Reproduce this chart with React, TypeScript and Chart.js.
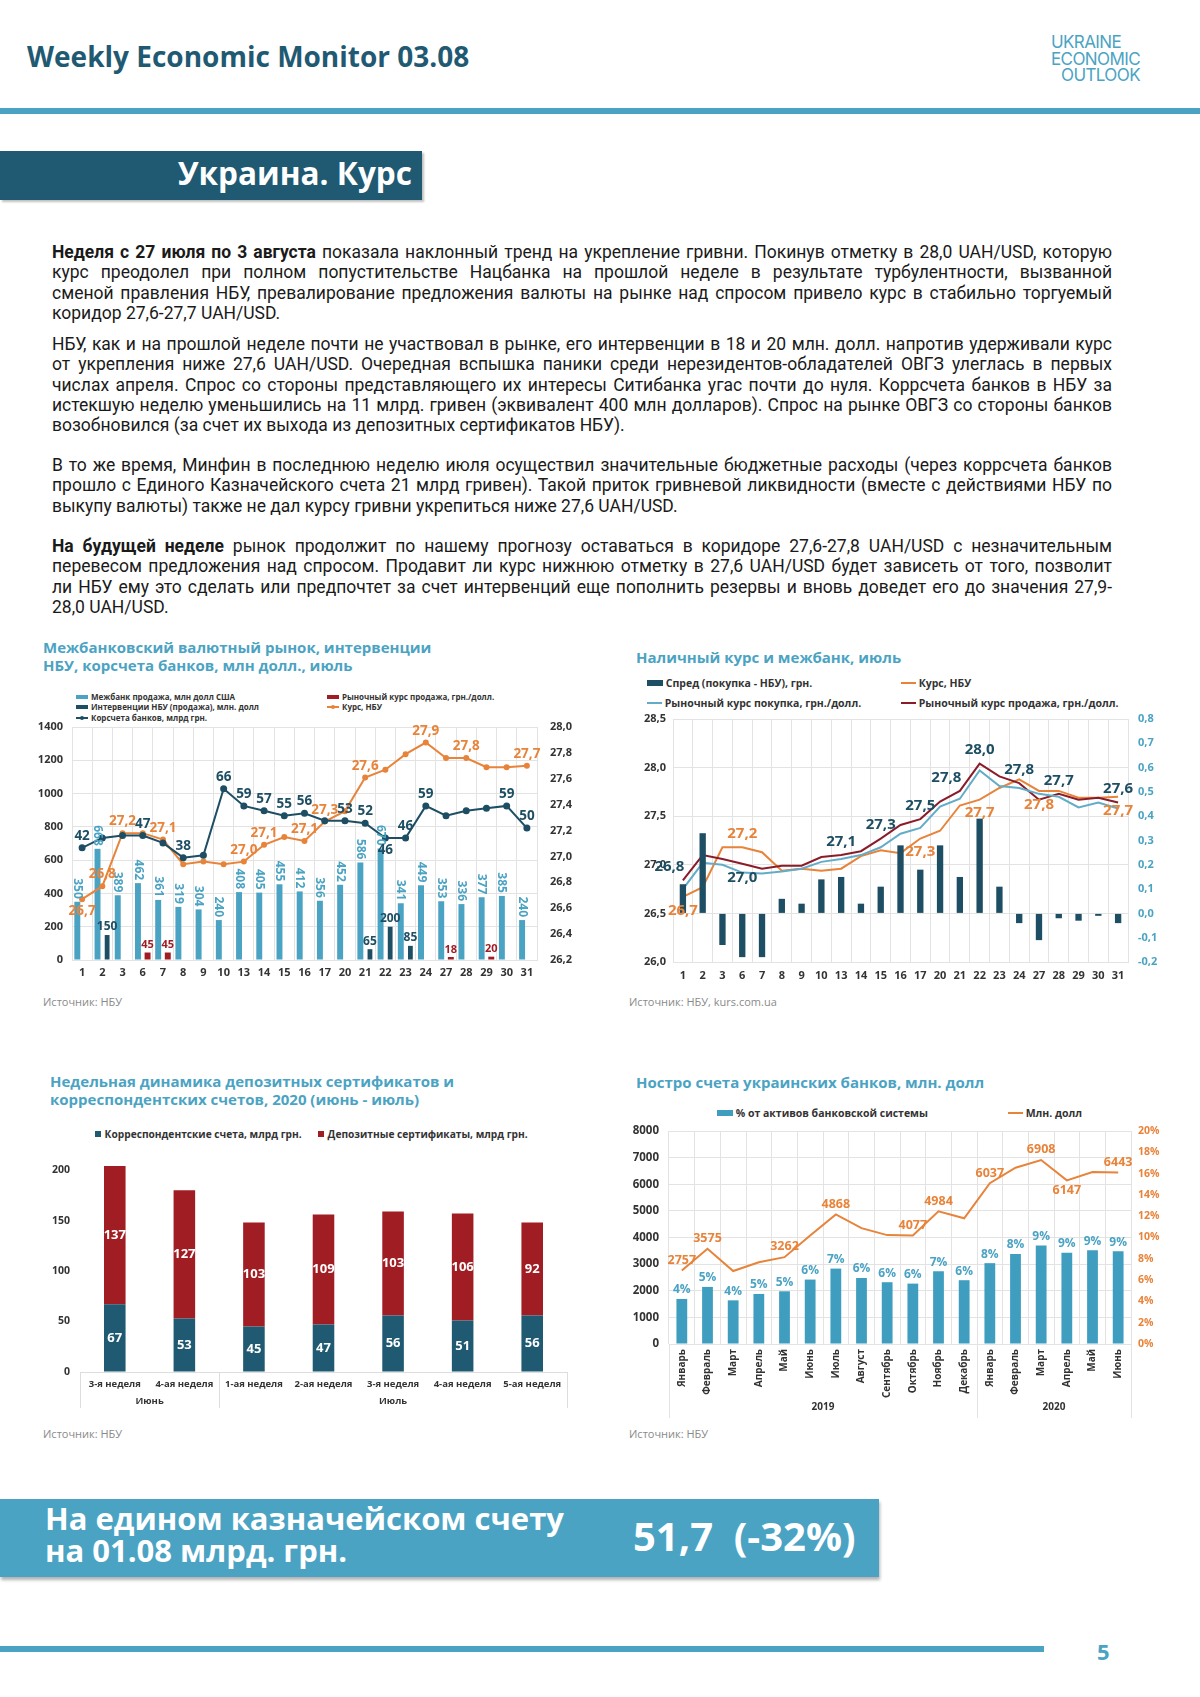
import React, { useEffect, useRef } from 'react';
import { Chart, registerables } from 'chart.js';

Chart.register(...registerables);

const FONT = '"Open Sans", "Noto Sans", sans-serif';
const TEAL = '#1f5a72';
const TEAL_DARK = '#1d4e63';
const BLUE = '#4ba3c3';
const LIGHT_LINE = '#63acc8';
const ORANGE = '#e8833a';
const RED = '#a11d24';
const DARK_RED = '#8a1c2a';
const GRID = '#e3e3e3';
const TICK = '#333333';
const CLEAR = 'rgba(0,0,0,0)';

// ---------- Chart 1: interbank market ----------
const days = ['1', '2', '3', '6', '7', '8', '9', '10', '13', '14', '15', '16', '17', '20', '21', '22', '23', '24', '27', '28', '29', '30', '31'];
const interbankSales = [350, 668, 389, 462, 361, 319, 304, 240, 408, 405, 455, 412, 356, 452, 586, 670, 341, 449, 353, 336, 377, 385, 240];
const nbuInterventions = [null, 150, null, null, null, null, null, null, null, null, null, null, null, null, 65, 200, 85, null, null, null, null, null, null];
const nbuSmallBars = [null, null, null, 45, 45, null, null, null, null, null, null, null, null, null, null, null, null, null, 18, null, 20, null, null];
const corrAccounts = [42, 46, 47, 47, 44, 38, 39, 66, 59, 57, 55, 56, 53, 53, 52, 46, 46, 59, 55, 57, 58, 59, 50];
const nbuRate = [26.67, 26.77, 27.18, 27.18, 27.13, 26.94, 26.96, 26.94, 26.96, 27.09, 27.15, 27.12, 27.27, 27.35, 27.61, 27.67, 27.79, 27.88, 27.76, 27.76, 27.69, 27.69, 27.70];

// ---------- Chart 2: cash rate ----------
const spread = [0.12, 0.33, -0.13, -0.18, -0.18, 0.06, 0.04, 0.14, 0.15, 0.04, 0.11, 0.28, 0.18, 0.28, 0.15, 0.39, 0.11, -0.04, -0.11, -0.02, -0.03, -0.01, -0.04];
const cashBuy = [26.75, 27.02, 27.0, 26.92, 26.91, 26.93, 26.96, 27.03, 27.06, 27.1, 27.18, 27.32, 27.38, 27.6, 27.68, 27.97, 27.81, 27.79, 27.73, 27.7, 27.59, 27.64, 27.58];
const cashSell = [26.84, 27.1, 27.06, 27.01, 26.96, 26.99, 26.99, 27.08, 27.1, 27.14, 27.27, 27.41, 27.47, 27.65, 27.76, 28.04, 27.91, 27.84, 27.67, 27.73, 27.67, 27.69, 27.64];

// ---------- Chart 3: deposit certificates ----------
const weeks = ['3-я неделя', '4-ая неделя', '1-ая неделя', '2-ая неделя', '3-я неделя', '4-ая неделя', '5-ая неделя'];
const weekGroups = [{ label: 'Июнь', from: 0, to: 1 }, { label: 'Июль', from: 2, to: 6 }];
const corrWeekly = [67, 53, 45, 47, 56, 51, 56];
const depositCerts = [137, 127, 103, 109, 103, 106, 92];

// ---------- Chart 4: nostro accounts ----------
const months = ['Январь', 'Февраль', 'Март', 'Апрель', 'Май', 'Июнь', 'Июль', 'Август', 'Сентябрь', 'Октябрь', 'Ноябрь', 'Декабрь', 'Январь', 'Февраль', 'Март', 'Апрель', 'Май', 'Июнь'];
const yearGroups = [{ label: '2019', from: 0, to: 11 }, { label: '2020', from: 12, to: 17 }];
const nostroUsd = [2757, 3575, 2740, 3070, 3262, 4075, 4868, 4350, 4090, 4077, 4984, 4720, 6037, 6620, 6908, 6147, 6460, 6443];
const nostroShare = [4.23, 5.36, 4.1, 4.7, 4.95, 6.05, 7.08, 6.2, 5.8, 5.67, 6.83, 5.99, 7.59, 8.46, 9.25, 8.56, 8.81, 8.71];

// label placement (t = above, b = below, tl = above-left, c = centre)
const corrLabelPos: Record<number, string> = { 0: 't', 3: 't', 5: 't', 7: 't', 8: 't', 9: 't', 10: 't', 11: 't', 13: 't', 14: 't', 15: 'b', 16: 't', 17: 't', 21: 't', 22: 't' };
const rateLabelPos: Record<number, string> = { 0: 'b', 1: 't', 2: 't', 4: 't', 8: 't', 9: 't', 11: 't', 12: 't', 14: 't', 17: 't', 19: 't', 22: 't' };
const sellLabelPos: Record<number, string> = { 0: 'tl', 3: 'b', 8: 't', 10: 't', 12: 't', 14: 'tl', 15: 't', 17: 't', 19: 't', 22: 't' };
const nbuCashLabelPos: Record<number, string> = { 0: 'b', 3: 't', 12: 'b', 15: 'b', 18: 'b', 22: 'b' };
const nostroLabelPos: Record<number, string> = { 0: 't', 1: 't', 4: 't', 6: 't', 9: 't', 10: 't', 12: 't', 14: 't', 15: 'b', 17: 't' };

const comma1 = (v: number) => Number(v).toFixed(1).replace('.', ',');

const valueLabels = {
  id: 'valueLabels',
  afterDatasetsDraw(chart: any, _a: any, opts: any) {
    const specs = (opts && opts.specs) || [];
    const ctx = chart.ctx;
    ctx.save();
    specs.forEach((s: any) => {
      const meta = chart.getDatasetMeta(s.ds);
      const data = chart.data.datasets[s.ds].data;
      const idxs = s.at === 'all' ? data.map((_: any, i: number) => i) : Object.keys(s.at).map(Number);
      idxs.forEach((i: number) => {
        const v = data[i];
        if (v === null || v === undefined) return;
        const el = meta.data[i];
        if (!el) return;
        const pos = s.at === 'all' ? s.pos || 't' : s.at[i];
        const g = s.gap !== undefined ? s.gap : 4;
        ctx.font = `bold ${s.size}px ${FONT}`;
        ctx.fillStyle = s.color;
        const txt = s.fmt(v);
        let x = el.x;
        let y = el.y;
        if (s.rotate) {
          ctx.save();
          ctx.translate(x, y - g);
          ctx.rotate(Math.PI / 2);
          ctx.textAlign = 'right';
          ctx.textBaseline = 'middle';
          ctx.fillText(txt, 0, 0);
          ctx.restore();
          return;
        }
        ctx.textAlign = 'center';
        if (pos === 'c') {
          y = (el.y + el.base) / 2;
          ctx.textBaseline = 'middle';
        } else if (pos[0] === 't') {
          ctx.textBaseline = 'bottom';
          y -= g;
        } else {
          ctx.textBaseline = 'top';
          y += g;
        }
        if (pos.indexOf('l') > 0) x -= s.size * 0.9;
        if (pos.indexOf('r') > 0) x += s.size * 0.9;
        ctx.fillText(txt, x, y);
      });
    });
    ctx.restore();
  },
};

const groupAxis = {
  id: 'groupAxis',
  afterDraw(chart: any, _a: any, opts: any) {
    if (!opts || !opts.groups) return;
    const xs = chart.scales.x;
    const area = chart.chartArea;
    const ctx = chart.ctx;
    const step = xs.getPixelForValue(1) - xs.getPixelForValue(0);
    ctx.save();
    ctx.strokeStyle = opts.lineColor || '#dddddd';
    ctx.lineWidth = 1;
    ctx.font = `bold ${opts.size || 10}px ${FONT}`;
    ctx.fillStyle = TICK;
    ctx.textAlign = 'center';
    ctx.textBaseline = 'middle';
    opts.groups.forEach((g: any, k: number) => {
      const l = xs.getPixelForValue(g.from) - step / 2;
      const r = xs.getPixelForValue(g.to) + step / 2;
      const lines = k === opts.groups.length - 1 ? [l, r] : [l];
      lines.forEach((px: number) => {
        ctx.beginPath();
        ctx.moveTo(Math.round(px) + 0.5, area.bottom);
        ctx.lineTo(Math.round(px) + 0.5, area.bottom + opts.lineLen);
        ctx.stroke();
      });
      ctx.fillText(g.label, (l + r) / 2, area.bottom + opts.labelOffset);
    });
    ctx.restore();
  },
};

Chart.register(valueLabels as any, groupAxis as any);

const fixW = (w: number) => (s: any) => {
  s.width = w;
};
const fixH = (h: number) => (s: any) => {
  s.height = h;
};
const tickFont = (size: number) => ({ family: FONT, size, weight: 'bold' as const });
const leftGrid = (gap: number) => ({ color: GRID, drawTicks: true, tickLength: gap, tickColor: CLEAR });
const rightGrid = (gap: number) => ({ drawOnChartArea: false, drawTicks: true, tickLength: gap, tickColor: CLEAR });

function chart1Config(): any {
  return {
    type: 'bar',
    data: {
      labels: days,
      datasets: [
        { type: 'line', label: 'Корсчета банков, млрд грн.', data: corrAccounts, yAxisID: 'yc', borderColor: TEAL_DARK, backgroundColor: TEAL_DARK, borderWidth: 2, pointRadius: 2.5, pointHoverRadius: 2.5, order: 0 },
        { type: 'line', label: 'Курс, НБУ', data: nbuRate, yAxisID: 'yr', borderColor: ORANGE, backgroundColor: ORANGE, borderWidth: 2, pointRadius: 2, order: 0 },
        { label: 'Межбанк продажа, млн долл США', data: interbankSales, backgroundColor: BLUE, stack: 'a', yAxisID: 'y', order: 1, barPercentage: 0.62, categoryPercentage: 0.95 },
        { label: 'Интервенции НБУ (продажа), млн. долл', data: nbuInterventions, backgroundColor: TEAL_DARK, stack: 'b', yAxisID: 'y', order: 1, barPercentage: 0.5, categoryPercentage: 0.95 },
        { label: 'Рыночный курс продажа, грн./долл.', data: nbuSmallBars, backgroundColor: RED, stack: 'b', yAxisID: 'y', order: 1, barPercentage: 0.62, categoryPercentage: 0.95 },
      ],
    },
    options: {
      responsive: false,
      animation: false,
      devicePixelRatio: 1,
      layout: { padding: { top: 9, left: 0, right: 0, bottom: 0 } },
      plugins: {
        legend: { display: false },
        tooltip: { enabled: false },
        valueLabels: {
          specs: [
            { ds: 2, at: 'all', rotate: true, color: BLUE, size: 12, fmt: (v: number) => String(v), gap: 3 },
            { ds: 3, at: 'all', pos: 't', color: TEAL_DARK, size: 12, fmt: (v: number) => String(v), gap: 2 },
            { ds: 4, at: 'all', pos: 't', color: RED, size: 11, fmt: (v: number) => String(v), gap: 2 },
            { ds: 0, at: corrLabelPos, color: TEAL_DARK, size: 13.5, fmt: (v: number) => String(v), gap: 5 },
            { ds: 1, at: rateLabelPos, color: ORANGE, size: 13.5, fmt: comma1, gap: 5 },
          ],
        },
      },
      scales: {
        x: {
          grid: { color: GRID, offset: true, drawTicks: false },
          border: { color: GRID },
          ticks: { font: tickFont(11), color: TICK, autoSkip: false, maxRotation: 0, padding: 6 },
          afterFit: fixH(28),
        },
        y: {
          position: 'left',
          min: 0,
          max: 1400,
          ticks: { stepSize: 200, font: tickFont(11), color: TICK, padding: 0, callback: (v: number) => String(v) },
          grid: leftGrid(9),
          border: { display: false },
          afterFit: fixW(44),
        },
        yr: {
          position: 'right',
          min: 26.2,
          max: 28.0,
          ticks: { stepSize: 0.2, font: tickFont(11), color: TICK, padding: 0, callback: (v: number) => comma1(v) },
          grid: rightGrid(13),
          border: { display: false },
          afterFit: fixW(56),
        },
        yc: { display: false, min: -3.5, max: 91 },
      },
    },
  };
}

function chart2Config(): any {
  return {
    type: 'bar',
    data: {
      labels: days,
      datasets: [
        { label: 'Спред (покупка - НБУ), грн.', data: spread, backgroundColor: TEAL_DARK, yAxisID: 'ys', order: 0, barPercentage: 0.32, categoryPercentage: 1 },
        { type: 'line', label: 'Рыночный курс покупка, грн./долл.', data: cashBuy, yAxisID: 'y', borderColor: LIGHT_LINE, borderWidth: 2, pointRadius: 0, order: 1 },
        { type: 'line', label: 'Рыночный курс продажа, грн./долл.', data: cashSell, yAxisID: 'y', borderColor: DARK_RED, borderWidth: 2, pointRadius: 0, order: 1 },
        { type: 'line', label: 'Курс, НБУ', data: nbuRate, yAxisID: 'y', borderColor: ORANGE, borderWidth: 2, pointRadius: 0, order: 1 },
      ],
    },
    options: {
      responsive: false,
      animation: false,
      devicePixelRatio: 1,
      layout: { padding: { top: 8, left: 0, right: 0, bottom: 0 } },
      plugins: {
        legend: { display: false },
        tooltip: { enabled: false },
        valueLabels: {
          specs: [
            { ds: 2, at: sellLabelPos, color: TEAL_DARK, size: 15, fmt: comma1, gap: 6 },
            { ds: 3, at: nbuCashLabelPos, color: ORANGE, size: 15, fmt: comma1, gap: 6 },
          ],
        },
      },
      scales: {
        x: {
          grid: { color: GRID, offset: true, drawTicks: false },
          border: { color: GRID },
          ticks: { font: tickFont(11), color: TICK, autoSkip: false, maxRotation: 0, padding: 7 },
          afterFit: fixH(30),
        },
        y: {
          position: 'left',
          min: 26.0,
          max: 28.5,
          ticks: { stepSize: 0.5, font: tickFont(11), color: TICK, padding: 0, callback: (v: number) => comma1(v) },
          grid: leftGrid(7),
          border: { display: false },
          afterFit: fixW(43),
        },
        ys: {
          position: 'right',
          min: -0.2,
          max: 0.8,
          ticks: { stepSize: 0.1, font: tickFont(11), color: BLUE, padding: 0, callback: (v: number) => comma1(v) },
          grid: rightGrid(10),
          border: { display: false },
          afterFit: fixW(47),
        },
      },
    },
  };
}

function chart3Config(): any {
  return {
    type: 'bar',
    data: {
      labels: weeks,
      datasets: [
        { label: 'Корреспондентские счета, млрд грн.', data: corrWeekly, backgroundColor: TEAL, barPercentage: 0.31, categoryPercentage: 1 },
        { label: 'Депозитные сертификаты, млрд грн.', data: depositCerts, backgroundColor: RED, barPercentage: 0.31, categoryPercentage: 1 },
      ],
    },
    options: {
      responsive: false,
      animation: false,
      devicePixelRatio: 1,
      layout: { padding: { top: 10, left: 0, right: 13, bottom: 0 } },
      plugins: {
        legend: { display: false },
        tooltip: { enabled: false },
        valueLabels: {
          specs: [
            { ds: 0, at: 'all', pos: 'c', color: '#ffffff', size: 13, fmt: (v: number) => String(v) },
            { ds: 1, at: 'all', pos: 'c', color: '#ffffff', size: 13, fmt: (v: number) => String(v) },
          ],
        },
        groupAxis: { groups: weekGroups, lineLen: 36, labelOffset: 29, size: 9.5, lineColor: '#dddddd' },
      },
      scales: {
        x: {
          stacked: true,
          grid: { display: false, drawTicks: false },
          border: { color: '#dddddd' },
          ticks: { font: tickFont(9.5), color: TICK, autoSkip: false, maxRotation: 0, padding: 7 },
          afterFit: fixH(53),
        },
        y: {
          stacked: true,
          min: 0,
          max: 205,
          ticks: { stepSize: 50, includeBounds: false, font: tickFont(10.5), color: TICK, padding: 0 },
          grid: { display: true, drawOnChartArea: false, drawTicks: true, tickLength: 10, tickColor: CLEAR },
          border: { display: false },
          afterFit: fixW(40),
        },
      },
    },
  };
}

function chart4Config(): any {
  return {
    type: 'bar',
    data: {
      labels: months,
      datasets: [
        { type: 'line', label: 'Млн. долл', data: nostroUsd, yAxisID: 'y', borderColor: ORANGE, borderWidth: 2, pointRadius: 0, order: 0 },
        { label: '% от активов банковской системы', data: nostroShare, yAxisID: 'yp', backgroundColor: '#3f9dbf', order: 1, barPercentage: 0.42, categoryPercentage: 1 },
      ],
    },
    options: {
      responsive: false,
      animation: false,
      devicePixelRatio: 1,
      layout: { padding: { top: 9, left: 0, right: 0, bottom: 0 } },
      plugins: {
        legend: { display: false },
        tooltip: { enabled: false },
        valueLabels: {
          specs: [
            { ds: 1, at: 'all', pos: 't', color: BLUE, size: 12, fmt: (v: number) => Math.round(v) + '%', gap: 3 },
            { ds: 0, at: nostroLabelPos, color: ORANGE, size: 12.5, fmt: (v: number) => String(v), gap: 4 },
          ],
        },
        groupAxis: { groups: yearGroups, lineLen: 74, labelOffset: 63, size: 10, lineColor: GRID },
      },
      scales: {
        x: {
          grid: { color: GRID, offset: true, drawTicks: false },
          border: { color: GRID },
          ticks: { font: tickFont(10), color: TICK, autoSkip: false, minRotation: 90, maxRotation: 90, padding: 5 },
          afterFit: fixH(78),
        },
        y: {
          position: 'left',
          min: 0,
          max: 8000,
          ticks: { stepSize: 1000, font: tickFont(11.5), color: TICK, padding: 0, callback: (v: number) => String(v) },
          grid: leftGrid(10),
          border: { display: false },
          afterFit: fixW(44),
        },
        yp: {
          position: 'right',
          min: 0,
          max: 20,
          ticks: { stepSize: 2, font: tickFont(10.5), color: ORANGE, padding: 0, callback: (v: number) => v + '%' },
          grid: rightGrid(7),
          border: { display: false },
          afterFit: fixW(49),
        },
      },
    },
  };
}

function ChartBox(props: { left: number; top: number; width: number; height: number; config: () => any }) {
  const ref = useRef<HTMLCanvasElement>(null);
  useEffect(() => {
    const c = new Chart(ref.current as HTMLCanvasElement, props.config());
    return () => c.destroy();
  }, []);
  return (
    <div style={{ position: 'absolute', left: props.left, top: props.top, width: props.width, height: props.height }}>
      <canvas ref={ref} width={props.width} height={props.height} style={{ width: props.width, height: props.height, display: 'block' }} />
    </div>
  );
}

function LegendItem(p: { x: number; y: number; kind: string; color: string; text: string; size: number }) {
  let icon: any = null;
  if (p.kind === 'rect') icon = <span style={{ display: 'inline-block', width: p.size * 1.5, height: p.size * 0.6, background: p.color, marginRight: 3 }} />;
  if (p.kind === 'square') icon = <span style={{ display: 'inline-block', width: p.size * 0.55, height: p.size * 0.55, background: p.color, marginRight: 4 }} />;
  if (p.kind === 'line') icon = <span style={{ display: 'inline-block', width: p.size * 1.4, height: 2, background: p.color, marginRight: 3 }} />;
  if (p.kind === 'linedot')
    icon = (
      <span style={{ position: 'relative', display: 'inline-block', width: p.size * 1.5, height: 1.5, background: p.color, marginRight: 3 }}>
        <span style={{ position: 'absolute', left: p.size * 0.75 - 2, top: -1.5, width: 4, height: 4, borderRadius: 2, background: p.color }} />
      </span>
    );
  return (
    <div style={{ position: 'absolute', left: p.x, top: p.y - p.size * 0.7, height: p.size * 1.4, display: 'flex', alignItems: 'center', whiteSpace: 'nowrap', font: `bold ${p.size}px ${FONT}`, color: '#333' }}>
      {icon}
      <span>{p.text}</span>
    </div>
  );
}

const titleStyle = (left: number, top: number): any => ({
  position: 'absolute',
  left,
  top,
  font: `bold 15px ${FONT}`,
  lineHeight: '18px',
  color: BLUE,
  whiteSpace: 'nowrap',
});

const sourceStyle = (left: number, top: number): any => ({
  position: 'absolute',
  left,
  top,
  font: `11px ${FONT}`,
  color: '#8a8a8a',
  whiteSpace: 'nowrap',
});

type Seg = { t: string; b?: boolean };
const para1: Seg[][] = [
  [{ t: 'Неделя с 27 июля по 3 августа', b: true }, { t: ' показала наклонный тренд на укрепление гривни. Покинув отметку в 28,0 UAH/USD, которую' }],
  [{ t: 'курс преодолел при полном попустительстве Нацбанка на прошлой неделе в результате турбулентности, вызванной' }],
  [{ t: 'сменой правления НБУ, превалирование предложения валюты на рынке над спросом привело курс в стабильно торгуемый' }],
  [{ t: 'коридор 27,6-27,7 UAH/USD.' }],
];
const para2: Seg[][] = [
  [{ t: 'НБУ, как и на прошлой неделе почти не участвовал в рынке, его интервенции в 18 и 20 млн. долл. напротив удерживали курс' }],
  [{ t: 'от укрепления ниже 27,6 UAH/USD. Очередная вспышка паники среди нерезидентов-обладателей ОВГЗ улеглась в первых' }],
  [{ t: 'числах апреля. Спрос со стороны представляющего их интересы Ситибанка угас почти до нуля. Коррсчета банков в НБУ за' }],
  [{ t: 'истекшую неделю уменьшились на 11 млрд. гривен (эквивалент 400 млн долларов). Спрос на рынке ОВГЗ со стороны банков' }],
  [{ t: 'возобновился (за счет их выхода из депозитных сертификатов НБУ).' }],
];
const para3: Seg[][] = [
  [{ t: 'В то же время, Минфин в последнюю неделю июля осуществил значительные бюджетные расходы (через коррсчета банков' }],
  [{ t: 'прошло с Единого Казначейского счета 21 млрд гривен). Такой приток гривневой ликвидности (вместе с действиями НБУ по' }],
  [{ t: 'выкупу валюты) также не дал курсу гривни укрепиться ниже 27,6 UAH/USD.' }],
];
const para4: Seg[][] = [
  [{ t: 'На будущей неделе', b: true }, { t: ' рынок продолжит по нашему прогнозу оставаться в коридоре 27,6-27,8 UAH/USD с незначительным' }],
  [{ t: 'перевесом предложения над спросом. Продавит ли курс нижнюю отметку в 27,6 UAH/USD будет зависеть от того, позволит' }],
  [{ t: 'ли НБУ ему это сделать или предпочтет за счет интервенций еще пополнить резервы и вновь доведет его до значения 27,9-' }],
  [{ t: '28,0 UAH/USD.' }],
];

function Paragraph(p: { top: number; lines: Seg[][] }) {
  return (
    <div style={{ position: 'absolute', left: 52, top: p.top, width: 1060, font: '17.5px Roboto, "Noto Sans", sans-serif', color: '#1a1a1a', lineHeight: '20.3px' }}>
      {p.lines.map((ln, i) => (
        <div key={i} style={{ textAlign: 'justify', textAlignLast: i === p.lines.length - 1 ? 'left' : 'justify', height: 20.3 } as any}>
          {ln.map((s, j) => (
            <span key={j} style={{ fontWeight: s.b ? 700 : 400 }}>{s.t}</span>
          ))}
        </div>
      ))}
    </div>
  );
}

export default function App() {
  return (
    <div style={{ position: 'absolute', left: 0, top: 0, width: 1200, height: 1697, background: '#fff', overflow: 'hidden' }}>
      {/* header */}
      <div style={{ position: 'absolute', left: 27, top: 40, font: `bold 28px ${FONT}`, color: TEAL, whiteSpace: 'nowrap', lineHeight: '32px' }}>Weekly Economic Monitor 03.08</div>
      <div style={{ position: 'absolute', left: 1051, top: 34, font: `400 17px Inter, sans-serif`, color: BLUE, lineHeight: '16.5px', letterSpacing: '-0.6px', display: 'inline-block' }}>
        <div>UKRAINE</div>
        <div>ECONOMIC</div>
        <div style={{ textAlign: 'right' }}>OUTLOOK</div>
      </div>
      <div style={{ position: 'absolute', left: 0, top: 108, width: 1200, height: 6, background: BLUE }} />

      {/* section banner */}
      <div style={{ position: 'absolute', left: 0, top: 151, width: 422, height: 49, background: TEAL, boxShadow: '2px 2px 2px rgba(0,0,0,0.25)' }}>
        <div style={{ position: 'absolute', right: 10, top: 0, lineHeight: '49px', font: `bold 31.5px ${FONT}`, color: '#fff', whiteSpace: 'nowrap' }}>Украина. Курс</div>
      </div>

      {/* text */}
      <Paragraph top={242} lines={para1} />
      <Paragraph top={334} lines={para2} />
      <Paragraph top={455} lines={para3} />
      <Paragraph top={536} lines={para4} />

      {/* chart 1 */}
      <div style={titleStyle(43, 638)}>
        <div>Межбанковский валютный рынок, интервенции</div>
        <div>НБУ, корсчета банков, млн долл., июль</div>
      </div>
      <LegendItem x={76} y={697} kind="rect" color={BLUE} text="Межбанк продажа, млн долл США" size={8} />
      <LegendItem x={76} y={707} kind="rect" color={TEAL_DARK} text="Интервенции  НБУ (продажа), млн. долл" size={8} />
      <LegendItem x={76} y={718} kind="linedot" color={TEAL_DARK} text="Корсчета банков, млрд грн." size={8} />
      <LegendItem x={327} y={697} kind="rect" color={RED} text="Рыночный курс продажа, грн./долл." size={8} />
      <LegendItem x={327} y={707} kind="linedot" color={ORANGE} text="Курс, НБУ" size={8} />
      <ChartBox left={28} top={718} width={565} height={270} config={chart1Config} />
      <div style={sourceStyle(43, 994)}>Источник: НБУ</div>

      {/* chart 2 */}
      <div style={titleStyle(636, 648)}>Наличный курс и межбанк, июль</div>
      <LegendItem x={647} y={683} kind="rect" color={TEAL_DARK} text="Спред (покупка - НБУ), грн." size={10.5} />
      <LegendItem x={901} y={683} kind="line" color={ORANGE} text="Курс, НБУ" size={10.5} />
      <LegendItem x={647} y={703} kind="line" color={LIGHT_LINE} text="Рыночный курс покупка, грн./долл." size={10.5} />
      <LegendItem x={901} y={703} kind="line" color={DARK_RED} text="Рыночный курс продажа, грн./долл." size={10.5} />
      <ChartBox left={630} top={711} width={545} height={281} config={chart2Config} />
      <div style={sourceStyle(629, 994)}>Источник: НБУ, kurs.com.ua</div>

      {/* chart 3 */}
      <div style={titleStyle(50, 1072)}>
        <div>Недельная динамика депозитных сертификатов и</div>
        <div>корреспондентских счетов, 2020 (июнь - июль)</div>
      </div>
      <LegendItem x={95} y={1134} kind="square" color={TEAL} text="Корреспондентские счета, млрд грн." size={10.2} />
      <LegendItem x={318} y={1134} kind="square" color={RED} text="Депозитные сертификаты, млрд грн." size={10.2} />
      <ChartBox left={40} top={1155} width={540} height={270} config={chart3Config} />
      <div style={sourceStyle(43, 1426)}>Источник: НБУ</div>

      {/* chart 4 */}
      <div style={titleStyle(636, 1073)}>Ностро счета украинских банков, млн. долл</div>
      <LegendItem x={717} y={1113} kind="rect" color="#3f9dbf" text="% от активов банковской системы" size={10.5} />
      <LegendItem x={1008} y={1113} kind="line" color={ORANGE} text="Млн. долл" size={10.5} />
      <ChartBox left={625} top={1122} width={555} height={300} config={chart4Config} />
      <div style={sourceStyle(629, 1426)}>Источник: НБУ</div>

      {/* bottom banner */}
      <div style={{ position: 'absolute', left: 0, top: 1499, width: 879, height: 78, background: BLUE, boxShadow: '1px 3px 3px rgba(0,0,0,0.3)' }}>
        <div style={{ position: 'absolute', left: 45, top: 3, font: `bold 31px ${FONT}`, color: '#fff', lineHeight: '32px', whiteSpace: 'nowrap' }}>
          <div>На едином казначейском счету</div>
          <div>на 01.08 млрд. грн.</div>
        </div>
        <div style={{ position: 'absolute', left: 633, top: 13, font: `bold 40px ${FONT}`, color: '#fff', lineHeight: '48px', whiteSpace: 'pre' }}>51,7  (-32%)</div>
      </div>

      {/* footer */}
      <div style={{ position: 'absolute', left: 0, top: 1646, width: 1044, height: 6, background: BLUE }} />
      <div style={{ position: 'absolute', left: 1097, top: 1636, font: `bold 22px ${FONT}`, color: BLUE, lineHeight: '30px' }}>5</div>
    </div>
  );
}
